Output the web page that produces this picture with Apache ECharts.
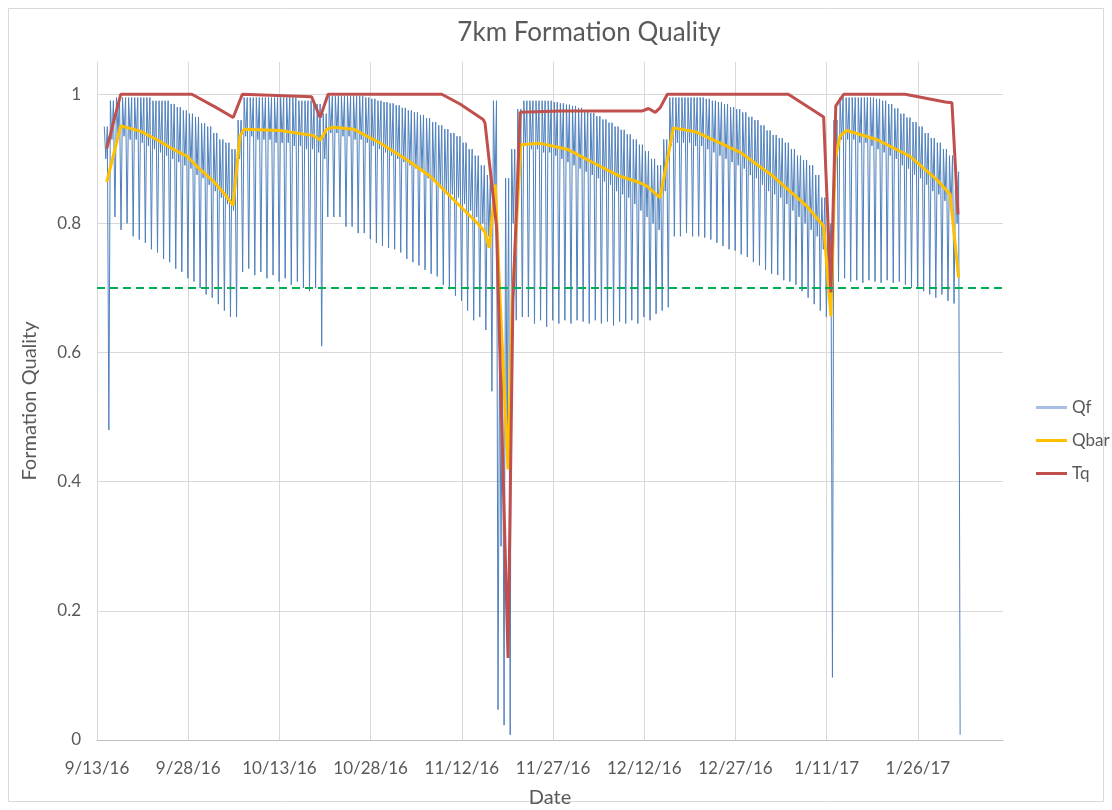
<!DOCTYPE html>
<html><head><meta charset="utf-8">
<script src="https://cdn.jsdelivr.net/npm/echarts@6/dist/echarts.min.js"></script>
<style>html,body{margin:0;padding:0;background:#fff}#c{width:1112px;height:810px}</style>
</head><body><div id="c"></div>
<script>
// x axis: days since 9/13/16, gridline every 15 days
const tickLabels = ['9/13/16','9/28/16','10/13/16','10/28/16','11/12/16','11/27/16','12/12/16','12/27/16','1/11/17','1/26/17'];
const yTicks = [0, 0.2, 0.4, 0.6, 0.8, 1];
const threshold = 0.7;

// Qf: one orbit per day, starting at day 1.2 (peak, shoulder, low for each orbit)
const qfStartDay = 1.2;
const qfPeak = [
 .95,.99,.995,.995,.995,.995,.995,.995,.99,.99,
 .99,.985,.98,.975,.97,.965,.955,.95,.94,.93,
 .925,.915,.96,.995,.995,.995,.995,.995,.995,.995,
 .995,.995,.99,.99,.99,.985,.97,.997,.997,.997,
 .997,.997,.997,.995,.993,.99,.988,.986,.983,.979,
 .975,.972,.968,.963,.957,.952,.946,.94,.935,.925,
 .915,.905,.89,.875,.99,.61,.87,.915,.977,.99,
 .99,.99,.99,.99,.988,.986,.984,.982,.979,.975,
 .971,.966,.961,.956,.95,.945,.938,.93,.922,.912,
 .90,.89,.93,.995,.995,.995,.995,.995,.995,.993,
 .99,.988,.985,.98,.977,.972,.965,.96,.952,.944,
 .937,.932,.925,.915,.905,.898,.89,.875,.84,.80,
 .96,.995,.995,.995,.995,.995,.995,.993,.99,.985,
 .978,.97,.964,.957,.95,.94,.932,.925,.915,.905,
 .88
];
const qfMid = [
 .90,.93,.94,.935,.93,.93,.925,.92,.915,.91,
 .905,.90,.895,.89,.885,.875,.87,.86,.85,.84,
 .83,.82,.90,.935,.935,.93,.93,.93,.925,.925,
 .925,.92,.92,.915,.915,.91,.90,.94,.94,.935,
 .935,.93,.93,.925,.92,.915,.91,.905,.90,.895,
 .89,.885,.88,.87,.865,.86,.85,.845,.84,.83,
 .82,.81,.80,.78,.85,.30,.45,.80,.88,.92,
 .915,.915,.91,.91,.905,.90,.895,.89,.885,.88,
 .875,.87,.865,.86,.85,.845,.84,.83,.82,.81,
 .80,.79,.85,.92,.925,.925,.925,.92,.92,.915,
 .91,.905,.90,.895,.89,.885,.875,.87,.86,.85,
 .845,.84,.83,.82,.81,.80,.79,.78,.76,.72,
 .88,.93,.93,.93,.925,.925,.92,.915,.91,.905,
 .90,.89,.885,.875,.87,.86,.85,.845,.835,.825,
 .80
];
const qfLow = [
 .48,.81,.79,.80,.78,.775,.77,.76,.755,.745,
 .74,.73,.725,.715,.71,.70,.69,.685,.675,.665,
 .655,.655,.725,.73,.72,.725,.715,.72,.71,.715,
 .705,.71,.70,.695,.70,.61,.81,.81,.81,.795,
 .795,.785,.785,.776,.77,.765,.762,.76,.755,.745,
 .74,.735,.728,.722,.718,.705,.698,.688,.68,.665,
 .65,.655,.635,.54,.047,.023,.008,.65,.655,.655,
 .645,.65,.64,.65,.645,.65,.645,.65,.648,.645,
 .65,.645,.648,.642,.648,.645,.65,.645,.655,.65,
 .66,.665,.67,.78,.78,.785,.78,.78,.778,.775,
 .77,.765,.76,.758,.752,.748,.74,.735,.728,.722,
 .72,.712,.71,.705,.695,.685,.675,.665,.655,.097,
 .71,.715,.71,.712,.708,.712,.71,.708,.712,.708,
 .71,.705,.70,.70,.695,.69,.685,.69,.68,.676,
 .008
];

// Qbar and Tq: [day since 9/13/16, value]
const qbarPoints = [
 [1.6,.864],[3.9,.951],[7.1,.943],[9.8,.930],[12.5,.915],[14.8,.904],[16.9,.884],[19.1,.866],[21.3,.842],[22.4,.828],
 [23.5,.935],[24.2,.946],[30.1,.944],[35.6,.936],[36.7,.929],[37.8,.946],[38.9,.949],[42.2,.946],[46.5,.925],[50.9,.899],
 [54.8,.873],[58.6,.837],[61.0,.815],[63.0,.796],[63.8,.786],[64.5,.762],[65.5,.86],[66.3,.68],[67.6,.419],[68.3,.68],
 [69.7,.922],[72.9,.924],[77.3,.915],[81.6,.894],[86.0,.873],[89.3,.863],[90.4,.858],[92.6,.84],[94.8,.948],[98.4,.942],
 [105.8,.91],[111.2,.873],[116.7,.827],[119.5,.796],[120.7,.656],[121.4,.90],[122.2,.935],[123.3,.944],[128.2,.93],[133.7,.904],
 [138.1,.868],[140.3,.845],[141.7,.716]
];
const tqPoints = [
 [1.6,.916],[3.9,1.0],[15.6,1.0],[19.7,.979],[22.4,.964],[23.9,1.0],[35.3,.996],[36.7,.964],[38.0,1.0],[56.7,1.0],
 [59.7,.985],[63.5,.961],[63.8,.956],[65.7,.796],[67.6,.127],[68.4,.68],[69.6,.972],[76.2,.974],[89.6,.974],[90.7,.978],
 [91.8,.972],[92.6,.979],[93.8,1.0],[113.7,1.0],[116.7,.982],[119.5,.965],[120.7,.693],[121.5,.982],[122.8,1.0],[132.9,1.0],
 [139.5,.988],[140.6,.987],[141.6,.814]
];

// Build the Qf polyline: peak, shoulder, peak, low within each orbit
const qfData = [];
for (let k = 0; k < qfPeak.length; k++) {
  const d = qfStartDay + k;
  qfData.push([d, qfPeak[k]], [d + 0.25, qfMid[k]], [d + 0.5, qfPeak[k]], [d + 0.75, qfLow[k]]);
}

const TXT = '#595959';
const FONT = 'Lato, "Open Sans", sans-serif';
const QF_COLOR = '#4F81BD';
const chart = echarts.init(document.getElementById('c'), null, {renderer: 'canvas'});
chart.setOption({
  animation: false,
  backgroundColor: '#fff',
  textStyle: {fontFamily: FONT, color: TXT},
  title: {
    text: '7km Formation Quality', left: 584, top: 15, textAlign: 'center',
    textStyle: {fontFamily: FONT, fontSize: 26, fontWeight: 'normal', color: TXT}
  },
  graphic: [{
    type: 'rect', silent: true, z: -1,
    shape: {x: 8.5, y: 8.5, width: 1095, height: 793},
    style: {fill: 'none', stroke: '#d9d9d9', lineWidth: 1}
  }],
  legend: {
    orient: 'vertical', left: 1031, top: 394, itemWidth: 31, itemHeight: 3, itemGap: 16,
    textStyle: {fontFamily: FONT, fontSize: 17, color: TXT},
    data: [
      {name: 'Qf', icon: 'rect', itemStyle: {color: '#A7C1E6', borderWidth: 0}},
      {name: 'Qbar', icon: 'rect', itemStyle: {color: '#FFC000', borderWidth: 0}},
      {name: 'Tq', icon: 'rect', itemStyle: {color: '#C0504D', borderWidth: 0}}
    ]
  },
  grid: {left: 97, right: 109, top: 62, bottom: 70, containLabel: false, outerBoundsMode: 'none'},
  xAxis: {
    type: 'value', min: 0, max: 149, interval: 15,
    name: 'Date', nameLocation: 'middle', nameGap: 48,
    nameTextStyle: {fontFamily: FONT, fontSize: 20, color: TXT},
    axisLine: {show: true, lineStyle: {color: '#bfbfbf', width: 1}},
    axisTick: {show: false},
    axisLabel: {
      margin: 20, fontFamily: FONT, fontSize: 17, color: TXT, showMaxLabel: false,
      formatter: function (v) {
        const i = Math.round(v / 15);
        return (Math.abs(v - i * 15) < 1e-6 && i < tickLabels.length) ? tickLabels[i] : '';
      }
    },
    splitLine: {show: true, showMaxLine: false, lineStyle: {color: '#d9d9d9', width: 1}}
  },
  yAxis: {
    type: 'value', min: 0, max: 1.05, interval: 0.2,
    name: 'Formation Quality', nameLocation: 'middle', nameGap: 57, nameRotate: 90,
    nameTextStyle: {fontFamily: FONT, fontSize: 20, color: TXT},
    axisLine: {show: false}, axisTick: {show: false},
    axisLabel: {
      margin: 16, fontFamily: FONT, fontSize: 17, color: TXT, showMaxLabel: false,
      formatter: function (v) {
        for (const t of yTicks) if (Math.abs(v - t) < 1e-6) return String(t);
        return '';
      }
    },
    splitLine: {show: true, showMaxLine: false, showMinLine: false, lineStyle: {color: '#d9d9d9', width: 1}}
  },
  series: [
    {
      name: 'Qf', type: 'line', data: qfData, symbol: 'none', showSymbol: false,
      lineStyle: {color: QF_COLOR, width: 1}, itemStyle: {color: QF_COLOR}, z: 2,
      markLine: {
        silent: true, symbol: ['none', 'none'], label: {show: false},
        lineStyle: {color: '#00B050', width: 2, type: [8, 5]},
        emphasis: {disabled: true},
        data: [{yAxis: threshold}]
      }
    },
    {
      name: 'Qbar', type: 'line', data: qbarPoints, symbol: 'none', showSymbol: false,
      lineStyle: {color: '#FFC000', width: 3}, itemStyle: {color: '#FFC000'}, z: 3
    },
    {
      name: 'Tq', type: 'line', data: tqPoints, symbol: 'none', showSymbol: false,
      lineStyle: {color: '#C0504D', width: 3}, itemStyle: {color: '#C0504D'}, z: 4
    }
  ]
});
</script>
</body></html>
